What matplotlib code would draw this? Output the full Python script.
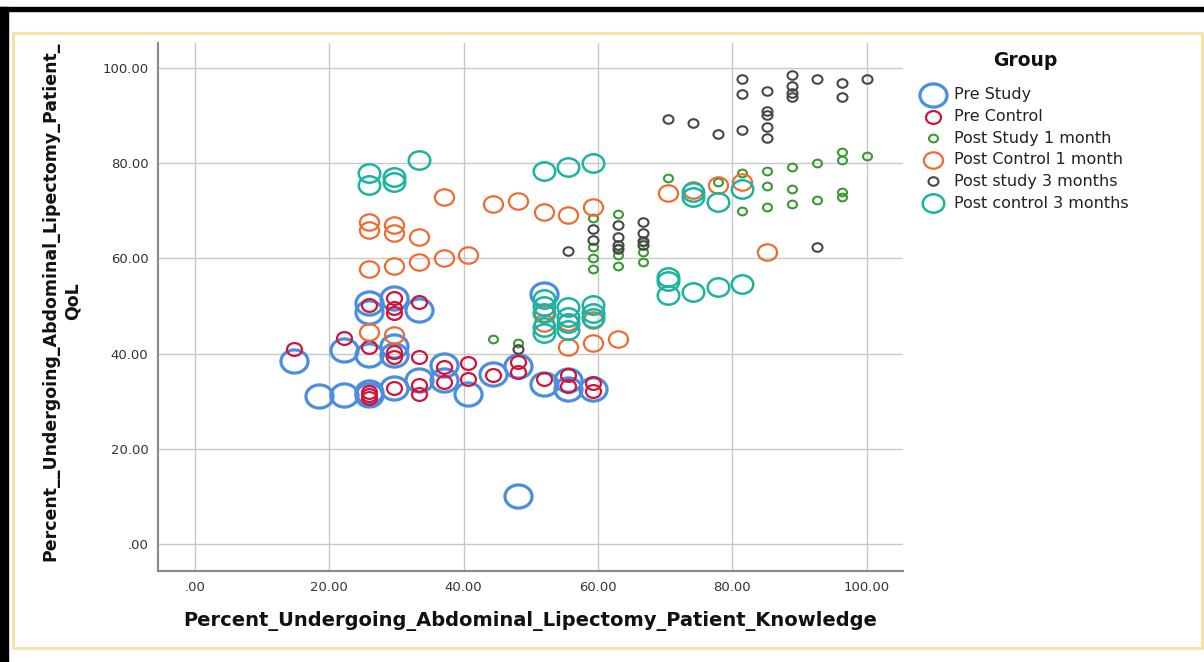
import numpy as np
import matplotlib
matplotlib.use("Agg")
import matplotlib.pyplot as plt
from matplotlib.path import Path
from matplotlib.lines import Line2D
from matplotlib.patches import Rectangle

plt.rcParams['font.family'] = ['DejaVu Sans']

# knowledge (x) and QoL (y) per group
pre_study_x = [14.8, 18.5, 22.2, 22.2, 25.9, 25.9, 25.9, 25.9, 25.9, 29.6, 29.6, 29.6, 29.6,
               33.3, 33.3, 37.0, 37.0, 40.7, 44.4, 48.1, 48.1, 51.9, 51.9, 55.6, 55.6, 59.3]
pre_study_y = [38.4, 31.0, 31.3, 40.8, 31.3, 32.0, 39.7, 48.8, 50.7, 32.8, 39.7, 41.5, 51.7,
               34.5, 49.2, 37.6, 34.5, 31.5, 35.8, 37.5, 10.0, 33.6, 52.5, 32.6, 34.5, 32.6]

pre_control_x = [14.8, 22.2, 25.9, 25.9, 25.9, 25.9, 25.9, 29.6, 29.6, 29.6, 29.6, 29.6, 29.6,
                 33.3, 33.3, 33.3, 33.3, 37.0, 37.0, 40.7, 40.7, 44.4, 48.1, 48.1, 51.9,
                 55.6, 55.6, 59.3, 59.3]
pre_control_y = [41.0, 43.3, 50.2, 41.4, 31.3, 30.7, 32.0, 51.7, 49.6, 48.6, 40.4, 39.3, 32.8,
                 50.9, 39.3, 33.4, 31.5, 37.2, 34.0, 38.0, 34.7, 35.5, 38.3, 36.2, 34.7,
                 35.5, 33.2, 33.8, 32.2]

post_study1_x = [44.4, 48.1, 59.3, 59.3, 59.3, 59.3, 63.0, 63.0, 63.0, 63.0, 66.7, 66.7, 66.7,
                 70.4, 77.8, 81.5, 81.5, 85.2, 85.2, 85.2, 88.9, 88.9, 88.9, 92.6, 92.6,
                 96.3, 96.3, 96.3, 96.3, 100.0]
post_study1_y = [43.1, 42.3, 68.5, 62.4, 60.1, 57.8, 69.4, 62.2, 60.8, 58.4, 63.5, 61.4, 59.3,
                 76.9, 76.1, 78.0, 70.0, 78.4, 75.3, 70.8, 79.3, 74.6, 71.5, 80.1, 72.3,
                 82.4, 80.7, 74.0, 72.9, 81.6]

post_control1_x = [25.9, 25.9, 25.9, 25.9, 29.6, 29.6, 29.6, 29.6, 33.3, 33.3, 37.0, 37.0, 40.7,
                   44.4, 48.1, 51.9, 51.9, 51.9, 55.6, 55.6, 55.6, 59.3, 59.3, 59.3, 63.0,
                   70.4, 74.1, 77.8, 81.5, 85.2]
post_control1_y = [67.7, 66.0, 57.8, 44.6, 67.1, 65.4, 58.4, 43.9, 64.5, 59.3, 72.9, 60.1, 60.8,
                   71.5, 72.1, 69.8, 48.6, 46.5, 69.2, 46.7, 41.4, 70.8, 47.1, 42.3, 43.1,
                   73.8, 74.4, 75.5, 76.1, 61.4]

post_study3_x = [48.1, 55.6, 59.3, 59.3, 63.0, 63.0, 63.0, 63.0, 66.7, 66.7, 66.7, 66.7, 70.4,
                 74.1, 77.8, 81.5, 81.5, 81.5, 85.2, 85.2, 85.2, 85.2, 85.2, 88.9, 88.9,
                 88.9, 88.9, 92.6, 92.6, 96.3, 96.3, 100.0]
post_study3_y = [41.0, 61.6, 66.2, 63.9, 67.1, 64.5, 62.9, 62.0, 67.7, 65.4, 63.7, 62.9, 89.3,
                 88.5, 86.2, 97.7, 94.6, 87.0, 95.2, 91.0, 90.2, 87.7, 85.3, 98.6, 96.3,
                 94.8, 94.0, 97.7, 62.4, 96.9, 94.0, 97.7]

post_control3_x = [25.9, 25.9, 29.6, 29.6, 33.3, 51.9, 55.6, 59.3, 74.1, 74.1, 77.8, 81.5, 70.4,
                   70.4, 70.4, 74.1, 77.8, 81.5, 51.9, 51.9, 51.9, 51.9, 51.9, 55.6, 55.6,
                   55.6, 55.6, 59.3, 59.3, 59.3]
post_control3_y = [78.0, 75.5, 77.1, 76.1, 80.7, 78.4, 79.2, 80.1, 74.0, 72.9, 71.9, 74.6, 56.1,
                   55.3, 52.3, 53.0, 54.0, 54.7, 51.5, 50.0, 48.6, 45.6, 44.4, 49.8, 47.7,
                   46.5, 45.0, 50.2, 48.6, 47.5]

group_names = ['Pre Study', 'Pre Control', 'Post Study 1 month', 'Post Control 1 month',
               'Post study 3 months', 'Post control 3 months']
xs = [pre_study_x, pre_control_x, post_study1_x, post_control1_x, post_study3_x, post_control3_x]
ys = [pre_study_y, pre_control_y, post_study1_y, post_control1_y, post_study3_y, post_control3_y]
colors = ['#4a8ee0', '#d2143c', '#3a9a32', '#ef6c30', '#474747', '#1cb3a0']
sizes = [19.5, 10.8, 6.5, 13.8, 7.2, 15.5]
widths = [2.3, 1.6, 1.5, 1.6, 1.5, 1.8]

# slightly wide ring, like the SPSS output
circ = Path.unit_circle()
ring = Path(circ.vertices * [1.17, 1.0], circ.codes)

fig = plt.figure(figsize=(12.04, 6.62), dpi=100)
W, H = 1204, 662
ax = fig.add_axes([158 / W, 91 / H, 745 / W, 528 / H])

for x, y, c, s, lw in zip(xs, ys, colors, sizes, widths):
    ax.plot(x, y, linestyle='none', marker=ring, markersize=s, markerfacecolor='none',
            markeredgecolor=c, markeredgewidth=lw)

ax.set_xlim(-5.5, 105.4)
ax.set_ylim(-5.7, 105.3)
ax.set_xticks(np.arange(0, 101, 20))
ax.set_yticks(np.arange(0, 101, 20))
fmt = lambda v: '.00' if v == 0 else '%.2f' % v
ax.set_xticklabels([fmt(v) for v in ax.get_xticks()])
ax.set_yticklabels([fmt(v) for v in ax.get_yticks()])
ax.tick_params(length=0, labelsize=9.5, colors='#333333', pad=7)
ax.grid(True, color='#c8c8c8', lw=1)
ax.set_axisbelow(True)
for sp in ['top', 'right']:
    ax.spines[sp].set_visible(False)
for sp in ['left', 'bottom']:
    ax.spines[sp].set_color('#888888')
    ax.spines[sp].set_linewidth(1.5)

ax.set_xlabel('Percent_Undergoing_Abdominal_Lipectomy_Patient_Knowledge',
              fontsize=14, fontweight='bold', color='#111111')
ax.xaxis.set_label_coords(0.5, -0.076)
ax.set_ylabel('Percent__Undergoing_Abdominal_Lipectomy_Patient_\nQoL',
              fontsize=12.5, fontweight='bold', color='#111111', linespacing=1.3)
ax.yaxis.set_label_coords(-0.102, 0.511)

# legend drawn by hand, SPSS style
fig.text(1025 / W, 1 - 61 / H, 'Group', fontsize=13.5, fontweight='bold',
         ha='center', va='center', color='#111111')
for i, (name, c, s, lw) in enumerate(zip(group_names, colors, sizes, widths)):
    yy = 1 - (95 + i * 21.6) / H
    fig.add_artist(Line2D([933 / W], [yy], transform=fig.transFigure, linestyle='none',
                          marker=ring, markersize=s, markerfacecolor='none',
                          markeredgecolor=c, markeredgewidth=lw))
    fig.text(954 / W, yy, name, fontsize=11.5, ha='left', va='center', color='#222222')

# frame around the output
fig.patches.append(Rectangle((0, 0), 8 / W, (H - 7) / H, transform=fig.transFigure,
                             color='black'))
fig.patches.append(Rectangle((0, (H - 11) / H), 1, 4 / H, transform=fig.transFigure,
                             color='black'))
fig.patches.append(Rectangle((13 / W, (H - 648) / H), (1202 - 13) / W, (648 - 33) / H,
                             transform=fig.transFigure, fill=False,
                             edgecolor='#f2e3a2', lw=2))

fig.savefig('out.png', dpi=100)
